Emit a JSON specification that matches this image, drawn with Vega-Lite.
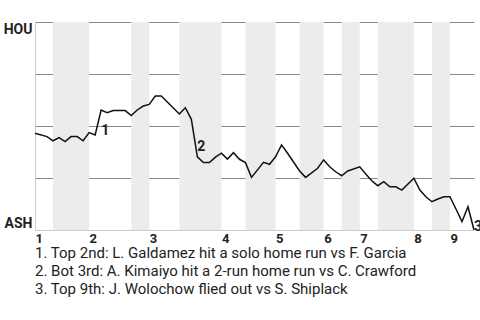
{
  "$schema": "https://vega.github.io/schema/vega-lite/v6.json",
  "autosize": "none",
  "padding": {"left": 35, "top": 22, "right": 6, "bottom": 90},
  "width": 439,
  "height": 208,
  "background": "white",
  "config": {"view": {"stroke": null}, "font": "Roboto"},
  "title": {
    "text": [
      "1. Top 2nd: L. Galdamez hit a solo home run vs F. Garcia",
      "2. Bot 3rd: A. Kimaiyo hit a 2-run home run vs C. Crawford",
      "3. Top 9th: J. Wolochow flied out vs S. Shiplack"
    ],
    "orient": "bottom",
    "anchor": "start",
    "frame": "group",
    "font": "Roboto",
    "fontSize": 15,
    "fontWeight": "normal",
    "color": "#222",
    "lineHeight": 18,
    "offset": 1
  },
  "datasets": {
    "bands": [
      {"start": 3, "end": 9},
      {"start": 16, "end": 19},
      {"start": 24, "end": 31},
      {"start": 35, "end": 40},
      {"start": 44, "end": 48},
      {"start": 51, "end": 54},
      {"start": 57, "end": 63},
      {"start": 66, "end": 69}
    ],
    "wp": [
      {"pa": 0, "p": 0.465}, {"pa": 2, "p": 0.449}, {"pa": 3, "p": 0.429}, {"pa": 4, "p": 0.444},
      {"pa": 5, "p": 0.425}, {"pa": 6, "p": 0.449}, {"pa": 7, "p": 0.449}, {"pa": 8, "p": 0.429},
      {"pa": 9, "p": 0.468}, {"pa": 10, "p": 0.457}, {"pa": 11, "p": 0.577}, {"pa": 12, "p": 0.564},
      {"pa": 13, "p": 0.574}, {"pa": 15, "p": 0.574}, {"pa": 16, "p": 0.55}, {"pa": 17, "p": 0.577},
      {"pa": 18, "p": 0.596}, {"pa": 19, "p": 0.604}, {"pa": 20, "p": 0.644}, {"pa": 21, "p": 0.644},
      {"pa": 24, "p": 0.558}, {"pa": 25, "p": 0.588}, {"pa": 26, "p": 0.532}, {"pa": 27, "p": 0.352},
      {"pa": 28, "p": 0.324}, {"pa": 29, "p": 0.324}, {"pa": 30, "p": 0.35}, {"pa": 31, "p": 0.369},
      {"pa": 32, "p": 0.341}, {"pa": 33, "p": 0.372}, {"pa": 34, "p": 0.34}, {"pa": 35, "p": 0.324},
      {"pa": 36, "p": 0.253}, {"pa": 38, "p": 0.325}, {"pa": 39, "p": 0.316}, {"pa": 40, "p": 0.352},
      {"pa": 41, "p": 0.409}, {"pa": 42, "p": 0.369}, {"pa": 44, "p": 0.284}, {"pa": 45, "p": 0.253},
      {"pa": 47, "p": 0.297}, {"pa": 48, "p": 0.337}, {"pa": 49, "p": 0.304}, {"pa": 50, "p": 0.28},
      {"pa": 51, "p": 0.261}, {"pa": 52, "p": 0.284}, {"pa": 54, "p": 0.304}, {"pa": 55, "p": 0.269},
      {"pa": 56, "p": 0.237}, {"pa": 57, "p": 0.213}, {"pa": 58, "p": 0.232}, {"pa": 59, "p": 0.208},
      {"pa": 60, "p": 0.208}, {"pa": 61, "p": 0.192}, {"pa": 63, "p": 0.249}, {"pa": 64, "p": 0.192},
      {"pa": 65, "p": 0.16}, {"pa": 66, "p": 0.136}, {"pa": 67, "p": 0.149}, {"pa": 68, "p": 0.16},
      {"pa": 69, "p": 0.16}, {"pa": 70, "p": 0.101}, {"pa": 71, "p": 0.04}, {"pa": 72, "p": 0.112},
      {"pa": 73, "p": 0.0}
    ],
    "notes": [
      {"pa": 10.5, "p": 0.517, "label": "1"},
      {"pa": 26.5, "p": 0.442, "label": "2"},
      {"pa": 72.5, "p": 0.056, "label": "3"}
    ]
  },
  "layer": [
    {
      "data": {"name": "bands"},
      "mark": {"type": "rect", "color": "#ececec"},
      "encoding": {
        "x": {
          "field": "start", "type": "quantitative",
          "scale": {"domain": [0, 73], "nice": false, "zero": false},
          "axis": {
            "values": [0, 9, 19, 31, 40, 48, 54, 63, 69],
            "labelExpr": "indexof([0, 9, 19, 31, 40, 48, 54, 63, 69], datum.value) + 1",
            "title": null,
            "grid": false,
            "ticks": false,
            "domain": false,
            "labelAlign": "left",
            "labelFont": "Roboto",
            "labelFontWeight": "bold",
            "labelFontSize": 13,
            "labelColor": "#222",
            "labelPadding": 2,
            "labelFlush": false
          }
        },
        "x2": {"field": "end"},
        "y": {
          "datum": 0, "type": "quantitative",
          "scale": {"domain": [0, 1], "nice": false},
          "axis": {
            "values": [0, 0.25, 0.5, 0.75, 1],
            "labelExpr": "datum.value == 1 ? 'HOU' : datum.value == 0 ? 'ASH' : ''",
            "title": null,
            "ticks": false,
            "grid": true,
            "gridColor": {"condition": {"test": "datum.value == 0", "value": "#cccccc"}, "value": "#888888"},
            "gridWidth": 1,
            "domain": true,
            "domainColor": "#cccccc",
            "labelFlush": true,
            "labelFont": "Roboto",
            "labelFontWeight": "bold",
            "labelFontSize": 14,
            "labelColor": "#222",
            "labelPadding": 3
          }
        },
        "y2": {"datum": 1}
      }
    },
    {
      "data": {"name": "wp"},
      "mark": {"type": "line", "color": "#111", "strokeWidth": 1.5, "strokeJoin": "miter"},
      "encoding": {
        "x": {"field": "pa", "type": "quantitative"},
        "y": {"field": "p", "type": "quantitative"}
      }
    },
    {
      "data": {"name": "notes"},
      "mark": {"type": "text", "align": "left", "baseline": "top", "dx": 3, "dy": 2, "font": "Roboto", "fontWeight": "bold", "fontSize": 14, "color": "#222"},
      "encoding": {
        "x": {"field": "pa", "type": "quantitative"},
        "y": {"field": "p", "type": "quantitative"},
        "text": {"field": "label"}
      }
    }
  ]
}
